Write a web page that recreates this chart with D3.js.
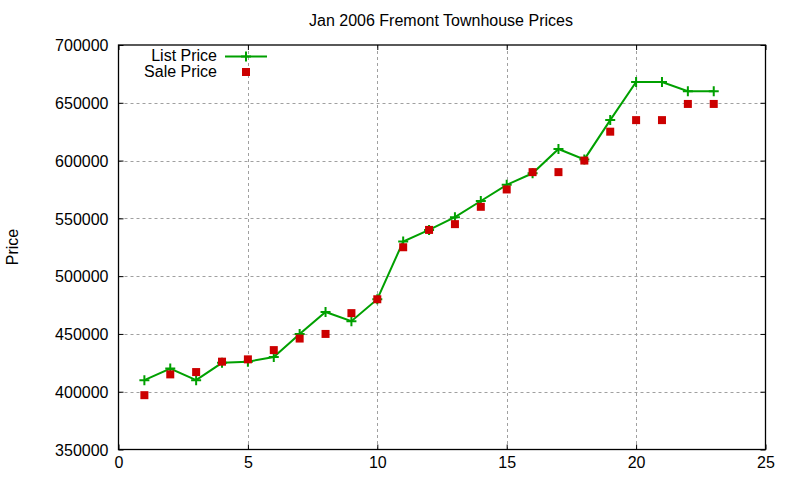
<!DOCTYPE html>
<html>
<head>
<meta charset="utf-8">
<script src="https://cdnjs.cloudflare.com/ajax/libs/d3/7.8.5/d3.min.js"></script>
<style>
body { margin: 0; background: #fff; }
text { font-family: "Liberation Sans", Arial, sans-serif; fill: #000; }
</style>
</head>
<body>
<svg id="chart" width="800" height="480"></svg>
<script>
// day index and prices
var days = [1, 2, 3, 4, 5, 6, 7, 8, 9, 10, 11, 12, 13, 14, 15, 16, 17, 18, 19, 20, 21, 22, 23];
var listPrice = [410000, 420000, 410000, 425000, 426000, 430000, 450000, 469000, 461000, 480000,
                 530000, 540000, 551000, 565000, 579000, 589000, 610000, 601000, 635000, 668000,
                 668000, 660000, 660000];
var salePrice = [397000, 415000, 417000, 426000, 428000, 436000, 446000, 450000, 468000, 480000,
                 525000, 540000, 545000, 560000, 575000, 590000, 590000, 600000, 625000, 635000,
                 635000, 649000, 649000];
var xTicks = [0, 5, 10, 15, 20, 25];
var yTicks = [350000, 400000, 450000, 500000, 550000, 600000, 650000, 700000];

var svg = d3.select("#chart"),
    padL = 118.5, padR = 765.5, padT = 45, padB = 449.5;

var x = d3.scaleLinear().domain([0, 25]).range([padL, padR]);
var y = d3.scaleLinear().domain([350000, 700000]).range([padB, padT]);

// grid
var grid = svg.append("g").attr("stroke", "#a0a0a0").attr("stroke-dasharray", "3,3").attr("stroke-width", 1);
grid.selectAll(".gx").data(xTicks.slice(1, -1)).enter().append("line")
    .attr("x1", d => Math.round(x(d)) + 0.5).attr("x2", d => Math.round(x(d)) + 0.5)
    .attr("y1", padT).attr("y2", padB);
grid.selectAll(".gy").data(yTicks.slice(1, -1)).enter().append("line")
    .attr("y1", d => Math.round(y(d)) + 0.5).attr("y2", d => Math.round(y(d)) + 0.5)
    .attr("x1", padL).attr("x2", padR);

// axes, ticks drawn inward and mirrored like gnuplot
var axB = svg.append("g").attr("transform", "translate(0," + padB + ")")
    .call(d3.axisBottom(x).tickValues(xTicks).tickSize(-5).tickPadding(7).tickFormat(d3.format("d")));
var axT = svg.append("g").attr("transform", "translate(0," + padT + ")")
    .call(d3.axisTop(x).tickValues(xTicks).tickSize(-5).tickFormat(""));
var axL = svg.append("g").attr("transform", "translate(" + padL + ",0)")
    .call(d3.axisLeft(y).tickValues(yTicks).tickSize(-5).tickPadding(10).tickFormat(d3.format("d")));
var axR = svg.append("g").attr("transform", "translate(" + padR + ",0)")
    .call(d3.axisRight(y).tickValues(yTicks).tickSize(-5).tickFormat(""));
[axB, axT, axL, axR].forEach(function(a) {
  a.select(".domain").remove();
  a.selectAll("line").attr("stroke", "#000").attr("stroke-width", 1);
  a.selectAll("text").style("font-size", "16px").style("font-family", "Liberation Sans, Arial, sans-serif");
});
axL.selectAll("text").attr("dy", "0.36em");

svg.append("rect").attr("x", padL).attr("y", padT)
   .attr("width", padR - padL).attr("height", padB - padT)
   .attr("fill", "none").attr("stroke", "#000").attr("stroke-width", 1.3);

// title and y label
svg.append("text").attr("x", 441).attr("y", 26).attr("text-anchor", "middle")
   .style("font-size", "16px").text("Jan 2006 Fremont Townhouse Prices");
svg.append("text").attr("transform", "translate(18,247) rotate(-90)").attr("text-anchor", "middle")
   .style("font-size", "16px").text("Price");

var green = "#00a000", red = "#cc0000";

var line = d3.line().x((d, i) => x(days[i])).y(d => y(d));
svg.append("path").datum(listPrice).attr("d", line)
   .attr("fill", "none").attr("stroke", green).attr("stroke-width", 2);

function plus(g, cx, cy) {
  g.append("path").attr("d", "M" + (cx - 5) + "," + cy + "H" + (cx + 5) + "M" + cx + "," + (cy - 5) + "V" + (cy + 5))
   .attr("stroke", green).attr("stroke-width", 2);
}
var pts = svg.append("g");
listPrice.forEach(function(v, i) { plus(pts, x(days[i]), y(v)); });

svg.append("g").selectAll("rect").data(salePrice).enter().append("rect")
   .attr("x", (d, i) => x(days[i]) - 4).attr("y", d => y(d) - 4)
   .attr("width", 8).attr("height", 8).attr("fill", red);

// legend
var lg = svg.append("g");
lg.append("text").attr("x", 217).attr("y", 61).attr("text-anchor", "end").style("font-size", "16px").text("List Price");
lg.append("text").attr("x", 217).attr("y", 77).attr("text-anchor", "end").style("font-size", "16px").text("Sale Price");
lg.append("line").attr("x1", 225).attr("x2", 267).attr("y1", 56.5).attr("y2", 56.5)
  .attr("stroke", green).attr("stroke-width", 2);
plus(lg, 246, 56.5);
lg.append("rect").attr("x", 242).attr("y", 68).attr("width", 8).attr("height", 8).attr("fill", red);
</script>
</body>
</html>
